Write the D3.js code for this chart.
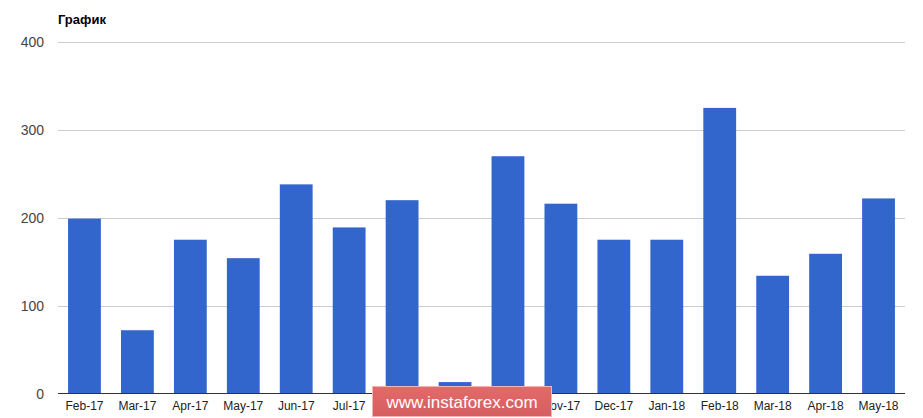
<!DOCTYPE html>
<html>
<head>
<meta charset="utf-8">
<script src="https://cdn.jsdelivr.net/npm/d3@7/dist/d3.min.js"></script>
<style>
  body { margin: 0; background: #fff; }
  svg { font-family: "Liberation Sans", Arial, sans-serif; }
</style>
</head>
<body>
<svg width="923" height="418"></svg>
<script>
// data
var months = ['Feb-17', 'Mar-17', 'Apr-17', 'May-17', 'Jun-17', 'Jul-17', 'Aug-17', 'Sep-17',
              'Oct-17', 'Nov-17', 'Dec-17', 'Jan-18', 'Feb-18', 'Mar-18', 'Apr-18', 'May-18'];
var values = [199, 72, 175, 154, 238, 189, 220, 13, 270, 216, 175, 175, 325, 134, 159, 222];
var yTicks = [0, 100, 200, 300, 400];

var svg = d3.select('svg');

var scaleX = d3.scaleBand().domain(months).range([58, 905]).paddingInner(0.38).paddingOuter(0.19);
var scaleY = d3.scaleLinear().domain([0, 400]).range([393.5, 42]);

// gridlines
svg.append('g')
    .selectAll('line')
    .data(yTicks.slice(1))
    .enter()
    .append('line')
    .attr('x1', 58)
    .attr('x2', 905)
    .attr('y1', function(d){ return Math.round(scaleY(d)) + 0.5; })
    .attr('y2', function(d){ return Math.round(scaleY(d)) + 0.5; })
    .attr('stroke', '#cccccc')
    .attr('stroke-width', 1);

// y labels
svg.append('g')
    .selectAll('text')
    .data(yTicks)
    .enter()
    .append('text')
    .attr('x', 44)
    .attr('y', function(d){ return scaleY(d) + 5; })
    .attr('text-anchor', 'end')
    .attr('font-size', 14)
    .attr('fill', '#444')
    .text(function(d){ return d; });

// bars
svg.append('g')
    .selectAll('rect')
    .data(values)
    .enter()
    .append('rect')
    .attr('x', function(d, i){ return scaleX(months[i]); })
    .attr('y', function(d){ return scaleY(d); })
    .attr('width', scaleX.bandwidth())
    .attr('height', function(d){ return scaleY(0) - scaleY(d); })
    .attr('fill', '#3366cc');

// baseline
svg.append('line')
    .attr('x1', 58)
    .attr('x2', 905)
    .attr('y1', 393.5)
    .attr('y2', 393.5)
    .attr('stroke', '#333333')
    .attr('stroke-width', 1);

// x axis labels
var xAxis = svg.append('g')
    .attr('transform', 'translate(0,393.5)')
    .call(d3.axisBottom(scaleX).tickSize(0).tickPadding(8));
xAxis.select('.domain').remove();
xAxis.selectAll('text')
    .attr('font-size', 12)
    .attr('font-family', '"Liberation Sans", Arial, sans-serif')
    .attr('fill', '#222');

// title
svg.append('text')
    .attr('x', 58)
    .attr('y', 24)
    .attr('font-size', 13)
    .attr('font-weight', 'bold')
    .attr('fill', '#000')
    .text('График');

// watermark
var defs = svg.append('defs');
var grad = defs.append('linearGradient')
    .attr('id', 'wm')
    .attr('x1', 0).attr('y1', 0).attr('x2', 0).attr('y2', 1);
grad.append('stop').attr('offset', '0%').attr('stop-color', '#e46a6a');
grad.append('stop').attr('offset', '100%').attr('stop-color', '#d45e60');

svg.append('rect')
    .attr('x', 372.5)
    .attr('y', 386.5)
    .attr('width', 179)
    .attr('height', 30)
    .attr('fill', 'url(#wm)')
    .attr('stroke', '#f2b3b3')
    .attr('stroke-width', 1);

svg.append('text')
    .attr('x', 462)
    .attr('y', 408)
    .attr('text-anchor', 'middle')
    .attr('font-size', 17)
    .attr('fill', '#ffffff')
    .text('www.instaforex.com');
</script>
</body>
</html>
